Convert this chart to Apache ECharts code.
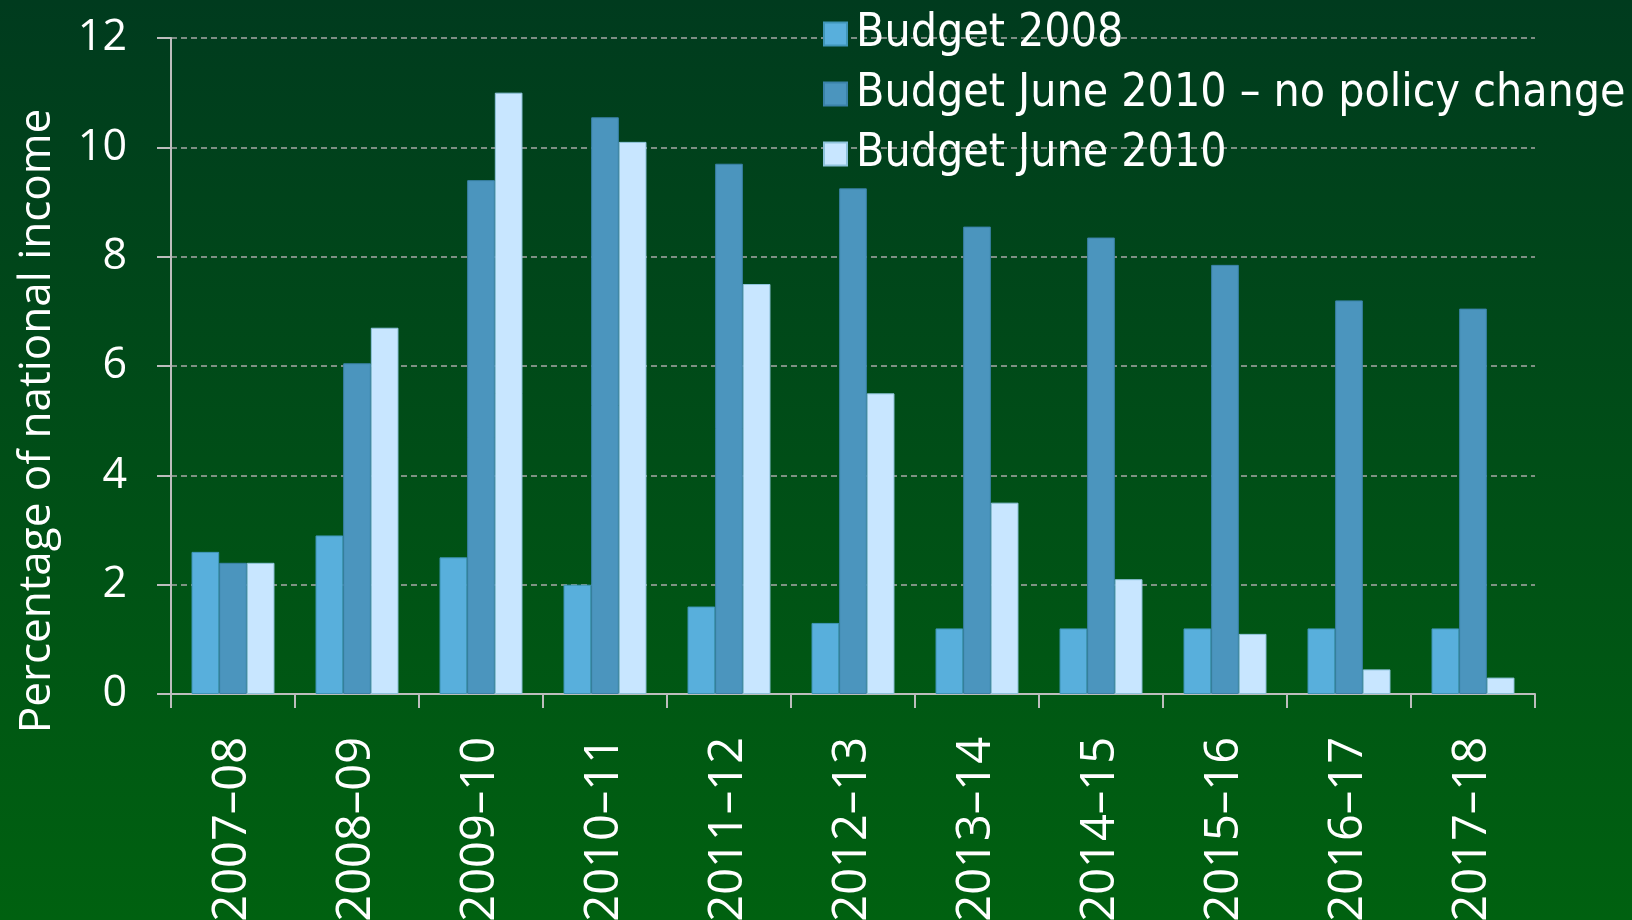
<!DOCTYPE html>
<html>
<head>
<meta charset="utf-8">
<script src="https://cdn.jsdelivr.net/npm/echarts@6/dist/echarts.min.js"></script>
<style>
html,body{margin:0;padding:0;width:1632px;height:920px;overflow:hidden;}
#c{width:1632px;height:920px;}
</style>
</head>
<body>
<div id="c"></div>
<script>
var categories = ['2007–08','2008–09','2009–10','2010–11','2011–12','2012–13','2013–14','2014–15','2015–16','2016–17','2017–18'];
var budget2008 = [2.6, 2.9, 2.5, 2.0, 1.6, 1.3, 1.2, 1.2, 1.2, 1.2, 1.2];
var noPolicyChange = [2.4, 6.05, 9.4, 10.55, 9.7, 9.25, 8.55, 8.35, 7.85, 7.2, 7.05];
var june2010 = [2.4, 6.7, 11.0, 10.1, 7.5, 5.5, 3.5, 2.1, 1.1, 0.45, 0.3];
var seriesNames = ['Budget 2008', 'Budget June 2010 – no policy change', 'Budget June 2010'];
var yTicks = [0, 2, 4, 6, 8, 10, 12];
var yTitle = 'Percentage of national income';

var chart = echarts.init(document.getElementById('c'), null, {renderer: 'canvas'});
var font = "'Open Sans', 'Noto Sans', sans-serif";
var colors = ['#58AFDC', '#4B95BE', '#C8E6FF'];
var borders = ['#3f96b8', '#3a82a8', '#8ec3dc'];
var datasets = [budget2008, noPolicyChange, june2010];

var option = {
  backgroundColor: new echarts.graphic.LinearGradient(0, 0, 0, 1, [
    {offset: 0, color: '#003B1E'},
    {offset: 1, color: '#006110'}
  ]),
  animation: false,
  grid: {left: 171, right: 97, top: 38, bottom: 226, containLabel: false, outerBoundsMode: 'none'},
  legend: {
    orient: 'vertical',
    left: 818,
    top: 6,
    itemWidth: 23,
    itemHeight: 23,
    itemGap: 14,
    icon: 'rect',
    data: seriesNames,
    textStyle: {color: '#ffffff', fontFamily: "'DejaVu Sans Condensed', 'DejaVu Sans', sans-serif", fontSize: 46, lineHeight: 46, padding: [0, 0, 0, 4]}
  },
  xAxis: {
    type: 'category',
    data: categories,
    axisLine: {lineStyle: {color: '#BDBDBD', width: 2}},
    axisTick: {show: true, length: 14, lineStyle: {color: '#BDBDBD', width: 2}},
    axisLabel: {rotate: 90, color: '#ffffff', fontFamily: font, fontSize: 47, margin: 43}
  },
  yAxis: {
    type: 'value',
    min: yTicks[0],
    max: yTicks[yTicks.length - 1],
    interval: 2,
    name: yTitle,
    nameLocation: 'middle',
    nameGap: 112,
    nameRotate: 90,
    nameTextStyle: {color: '#ffffff', fontFamily: font, fontSize: 44, padding: [0, 110, 0, 0]},
    axisLine: {show: true, lineStyle: {color: '#BDBDBD', width: 2}},
    axisTick: {show: true, length: 14, lineStyle: {color: '#BDBDBD', width: 2}},
    axisLabel: {color: '#ffffff', fontFamily: font, fontSize: 43, margin: 44},
    splitLine: {show: true, lineStyle: {color: '#A8A8A8', width: 1.5, type: [6, 4]}}
  },
  series: datasets.map(function (d, i) {
    return {
      name: seriesNames[i],
      type: 'bar',
      data: d,
      barWidth: '22.3%',
      barGap: '0%',
      itemStyle: {color: colors[i], borderColor: borders[i], borderWidth: 1}
    };
  })
};
chart.setOption(option);
</script>
</body>
</html>
